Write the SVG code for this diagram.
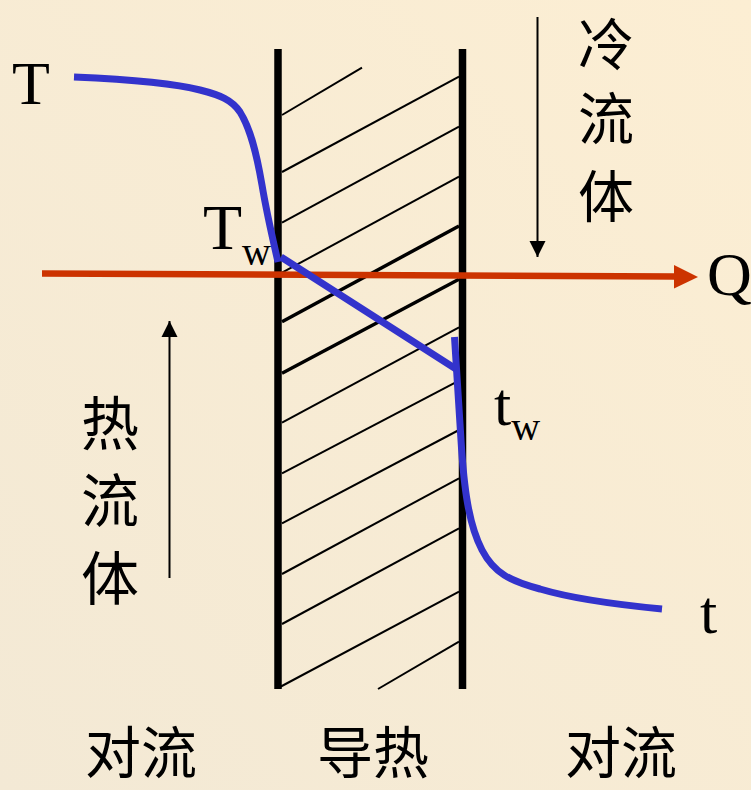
<svg xmlns="http://www.w3.org/2000/svg" width="751" height="790" viewBox="0 0 751 790">
<defs>
<linearGradient id="bg" x1="1" y1="0" x2="0" y2="1">
<stop offset="0" stop-color="#FCEED3"/>
<stop offset="1" stop-color="#F3E9D5"/>
</linearGradient>
<marker id="blk" markerWidth="16" markerHeight="18" refX="16" refY="8" orient="auto" markerUnits="userSpaceOnUse" viewBox="0 0 16 16">
<path d="M0,0 L16,8 L0,16 Z" fill="#000"/>
</marker>
</defs>
<style>
.wall{stroke:#000;stroke-width:7.5;fill:none}
.h{stroke:#000;stroke-width:2;fill:none}
.hk{stroke:#000;stroke-width:3.5;fill:none}
.blue{stroke:#3333CC;stroke-width:7;fill:none}
.lat{font-family:"Liberation Serif","Times New Roman",serif;fill:#000}
.cjk{font-family:"Noto Sans CJK SC","Noto Sans",sans-serif;fill:#000;font-size:58px}
.edge{font-size:56px}
</style>
<rect width="751" height="790" fill="url(#bg)"/>

<g id="hatch">
<line class="h" x1="282" y1="115" x2="362" y2="67.7"/>
<line class="h" x1="282" y1="172" x2="459" y2="76.7"/>
<line class="h" x1="282" y1="222.7" x2="459" y2="126.7"/>
<line class="h" x1="282" y1="272.7" x2="459" y2="176.7"/>
<line class="hk" x1="282" y1="321.7" x2="459" y2="226"/>
<line class="hk" x1="282" y1="373.3" x2="459" y2="279.3"/>
<line class="h" x1="282" y1="422.7" x2="459" y2="327.3"/>
<line class="h" x1="282" y1="473.3" x2="459" y2="380.7"/>
<line class="h" x1="282" y1="523.3" x2="459" y2="430"/>
<line class="h" x1="282" y1="574" x2="459" y2="478.3"/>
<line class="h" x1="282" y1="624" x2="459" y2="528.3"/>
<line class="h" x1="280" y1="687" x2="459" y2="591.7"/>
<line class="h" x1="378" y1="689" x2="459" y2="641.7"/>
</g>

<g id="walls">
<line class="wall" x1="278" y1="49" x2="278" y2="689"/>
<line class="wall" x1="462.5" y1="49" x2="462.5" y2="689"/>
</g>

<g id="connectors">
<line x1="42" y1="273.5" x2="676" y2="276.5" stroke="#CC3300" stroke-width="6.5"/>
<polygon points="674,265 698,277 674,288.5" fill="#CC3300"/>
<line x1="537.5" y1="17" x2="537.5" y2="257" stroke="#000" stroke-width="2" marker-end="url(#blk)"/>
<line x1="169.5" y1="578" x2="169.5" y2="321" stroke="#000" stroke-width="2" marker-end="url(#blk)"/>
</g>

<g id="temperature-profile">
<path class="blue" d="M74,77 C120,79 170,82 200,90 C220,95 232,100 240,112 C250,128 256,150 262,185 C267,215 273,240 278,262"/>
<line class="blue" x1="281" y1="257" x2="456" y2="369"/>
<path class="blue" d="M454.5,337 L461,440 C464,490 469,525 482,550 C494,573 510,581 540,589 C570,598 610,604 662,609"/>
</g>

<g id="labels">
<text class="lat" x="12" y="104" font-size="62">T</text>
<text class="lat" x="203" y="249" font-size="64">T<tspan font-size="40" dy="16">w</tspan></text>
<text class="lat" x="707" y="295" font-size="62">Q</text>
<text class="lat" x="494" y="425" font-size="62">t<tspan font-size="40" dy="15">w</tspan></text>
<text class="lat" x="700" y="633" font-size="62">t</text>
<text class="cjk edge" text-anchor="middle"><tspan x="606" y="65">冷</tspan><tspan x="606" y="139">流</tspan><tspan x="606" y="217">体</tspan></text>
<text class="cjk" text-anchor="middle"><tspan x="110" y="445">热</tspan><tspan x="110" y="522">流</tspan><tspan x="110" y="600">体</tspan></text>
<text class="cjk edge" x="141" y="773" text-anchor="middle">对流</text>
<text class="cjk edge" x="373" y="773" text-anchor="middle">导热</text>
<text class="cjk edge" x="621" y="773" text-anchor="middle">对流</text>
</g>
</svg>
